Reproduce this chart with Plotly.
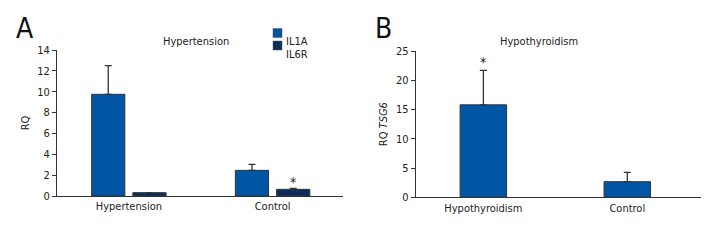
import plotly.graph_objects as go

# ---- data ----
groups_a = ["Hypertension", "Control"]
il1a = [9.75, 2.46]
il1a_err = [2.75, 0.58]
il6r = [0.32, 0.64]
il6r_err = [0.0, 0.10]
sig_a_il6r = ["", "*"]

groups_b = ["Hypothyroidism", "Control"]
tsg6 = [15.8, 2.67]
tsg6_err = [5.9, 1.6]
sig_b = ["*", ""]

C_IL1A = "#0055A4"
C_IL6R = "#0B2E5C"
FONT = "Liberation Sans Narrow, DejaVu Sans Condensed, Roboto Condensed, Roboto, sans-serif"
TXT = "#222222"
FS = 11

fig = go.Figure()

w_a = 0.231
off1 = -0.259
off2 = 0.028
w_b = 0.323

def eb(vals):
    return dict(type="data", array=vals, arrayminus=[0] * len(vals), symmetric=False,
                color="#333333", thickness=1.3, width=3.5)

fig.add_trace(go.Bar(x=groups_a, y=il1a, width=w_a, offset=off1, marker_color=C_IL1A,
                     marker_line=dict(color="#333333", width=1), error_y=eb(il1a_err),
                     name="IL1A", xaxis="x", yaxis="y", showlegend=False))
fig.add_trace(go.Bar(x=groups_a, y=il6r, width=w_a, offset=off2, marker_color=C_IL6R,
                     marker_line=dict(color="#333333", width=1), error_y=eb(il6r_err),
                     name="IL6R", xaxis="x", yaxis="y", showlegend=False))
fig.add_trace(go.Bar(x=groups_b, y=tsg6, width=w_b, offset=-w_b / 2, marker_color=C_IL1A,
                     marker_line=dict(color="#333333", width=1), error_y=eb(tsg6_err),
                     name="TSG6", xaxis="x2", yaxis="y2", showlegend=False))

annotations = []
for i, s in enumerate(sig_a_il6r):
    if s:
        annotations.append(dict(x=i + off2 + w_a / 2, y=il6r[i] + il6r_err[i], xref="x", yref="y",
                                text=s, showarrow=False, xanchor="center", yanchor="bottom", yshift=-4,
                                font=dict(family=FONT, size=14, color=TXT)))
for i, s in enumerate(sig_b):
    if s:
        annotations.append(dict(x=i, y=tsg6[i] + tsg6_err[i], xref="x2", yref="y2",
                                text=s, showarrow=False, xanchor="center", yanchor="bottom", yshift=-2,
                                font=dict(family=FONT, size=14, color=TXT)))

# panel labels and titles
annotations += [
    dict(x=14 / 720, y=1 - 10 / 240, xref="paper", yref="paper", text="A", showarrow=False,
         xanchor="left", yanchor="top", font=dict(family=FONT, size=28, color="#111")),
    dict(x=373 / 720, y=1 - 10 / 240, xref="paper", yref="paper", text="B", showarrow=False,
         xanchor="left", yanchor="top", font=dict(family=FONT, size=28, color="#111")),
    dict(x=196 / 720, y=1 - 33 / 240, xref="paper", yref="paper", text="Hypertension",
         showarrow=False, xanchor="center", font=dict(family=FONT, size=FS, color=TXT)),
    dict(x=539 / 720, y=1 - 33 / 240, xref="paper", yref="paper", text="Hypothyroidism",
         showarrow=False, xanchor="center", font=dict(family=FONT, size=FS, color=TXT)),
    dict(x=284 / 720, y=1 - 33 / 240, xref="paper", yref="paper", text="IL1A", xanchor="left",
         showarrow=False, font=dict(family=FONT, size=FS, color=TXT)),
    dict(x=284 / 720, y=1 - 45.5 / 240, xref="paper", yref="paper", text="IL6R", xanchor="left",
         showarrow=False, font=dict(family=FONT, size=FS, color=TXT)),
]

shapes = [
    dict(type="rect", xref="paper", yref="paper", x0=273 / 720, x1=282 / 720,
         y0=1 - 37.5 / 240, y1=1 - 28.5 / 240, fillcolor=C_IL1A, line=dict(color="#555", width=0.5)),
    dict(type="rect", xref="paper", yref="paper", x0=273 / 720, x1=282 / 720,
         y0=1 - 50 / 240, y1=1 - 41 / 240, fillcolor=C_IL6R, line=dict(color="#555", width=0.5)),
]

axis_common = dict(showline=True, linecolor="#333333", linewidth=1, showgrid=False, zeroline=False,
                   automargin=False, tickfont=dict(family=FONT, size=FS, color=TXT))

fig.update_layout(
    width=720, height=240, margin=dict(l=0, r=0, t=0, b=0),
    paper_bgcolor="white", plot_bgcolor="white",
    barmode="overlay",
    font=dict(family=FONT, color=TXT),
    xaxis=dict(domain=[57 / 720, 343 / 720], anchor="y", type="category",
               range=[-0.5, 1.49], ticks="", **axis_common),
    yaxis=dict(domain=[44 / 240, 190 / 240], anchor="x", range=[0, 14], dtick=2,
               ticks="outside", ticklen=4, tickcolor="#333333",
               title=dict(text="RQ", standoff=5, font=dict(family=FONT, size=FS, color=TXT)),
               **axis_common),
    xaxis2=dict(domain=[415.7 / 720, 700.7 / 720], anchor="y2", type="category",
                range=[-0.47, 1.51], ticks="", **axis_common),
    yaxis2=dict(domain=[42.7 / 240, 189 / 240], anchor="x2", range=[0, 25], dtick=5,
                ticks="outside", ticklen=4, tickcolor="#333333",
                title=dict(text="RQ <i>TSG6</i>", standoff=6, font=dict(family=FONT, size=FS, color=TXT)),
                **axis_common),
    annotations=annotations,
    shapes=shapes,
)

fig.write_html("out.html", config={"displayModeBar": False},
               post_script="document.body.style.margin='0';document.body.style.overflow='hidden';")
